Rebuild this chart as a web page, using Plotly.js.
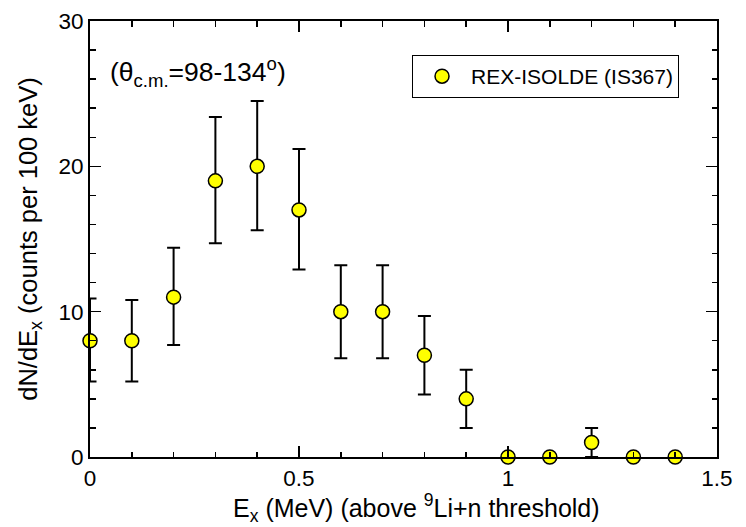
<!DOCTYPE html>
<html>
<head>
<meta charset="utf-8">
<script src="https://cdn.plot.ly/plotly-3.0.1.min.js"></script>
<style>html,body{margin:0;padding:0;background:#fff;}#chart{width:746px;height:527px;}</style>
</head>
<body>
<div id="chart"></div>
<script>
const energies = [0, 0.1, 0.2, 0.3, 0.4, 0.5, 0.6, 0.7, 0.8, 0.9, 1.0, 1.1, 1.2, 1.3, 1.4];
const counts = [8, 8, 11, 19, 20, 17, 10, 10, 7, 4, 0, 0, 1, 0, 0];
const errUp = [2.9, 2.8, 3.4, 4.4, 4.5, 4.2, 3.2, 3.2, 2.7, 2.0, 0, 0, 1.0, 0, 0];
const errDown = [2.8, 2.8, 3.3, 4.3, 4.4, 4.1, 3.2, 3.2, 2.7, 2.0, 0, 0, 1.0, 0, 0];
const seriesName = 'REX-ISOLDE (IS367)';
const xTickVals = [0, 0.5, 1, 1.5];
const xTickText = ['0', '0.5', '1', '1.5'];
const yTickVals = [0, 10, 20, 30];
const yTickText = ['0', '10', '20', '30'];

const font = 'Liberation Sans, Arial, Helvetica, sans-serif';

const trace = {
  x: energies,
  y: counts,
  type: 'scatter',
  mode: 'markers',
  name: seriesName,
  cliponaxis: false,
  marker: {symbol: 'circle', size: 14, color: '#ffff00', line: {color: '#000', width: 1.5}},
  error_y: {type: 'data', symmetric: false, array: errUp, arrayminus: errDown,
            color: '#000', thickness: 2, width: 6.5}
};

const axisCommon = {
  showgrid: false, zeroline: false, showline: true, linecolor: '#000', linewidth: 2,
  mirror: 'ticks', ticks: 'inside', ticklen: 11, tickwidth: 1.5, tickcolor: '#000',
  tickfont: {family: font, size: 22.5, color: '#000'}
};

const layout = {
  width: 746, height: 527,
  margin: {l: 90, r: 29, t: 21, b: 70},
  paper_bgcolor: '#fff', plot_bgcolor: '#fff',
  showlegend: true,
  legend: {x: 0.5136, y: 0.922, xanchor: 'left', yanchor: 'top',
           bordercolor: '#000', borderwidth: 1, bgcolor: '#fff', itemwidth: 48,
           font: {family: font, size: 21, color: '#000'}},
  xaxis: Object.assign({}, axisCommon, {
    range: [0, 1.5], tickvals: xTickVals, ticktext: xTickText,
    minor: {dtick: 0.1, ticks: 'inside', ticklen: 5.5, tickwidth: 1.5, tickcolor: '#000'}
  }),
  yaxis: Object.assign({}, axisCommon, {
    range: [0, 30], tickvals: yTickVals, ticktext: yTickText,
    minor: {dtick: 2, ticks: 'inside', ticklen: 5.5, tickwidth: 1.5, tickcolor: '#000'},
    title: {text: 'dN/dE<sub>x</sub> (counts per 100 keV)',
            font: {family: font, size: 25.5, color: '#000'}, standoff: 14}
  }),
  annotations: [{
    xref: 'paper', yref: 'paper', x: 0.0287, y: 0.883, xanchor: 'left', yanchor: 'middle',
    showarrow: false, text: '(θ<sub>c.m.</sub>=98-134<sup>o</sup>)',
    font: {family: font, size: 26.5, color: '#000'}
  }, {
    xref: 'paper', yref: 'paper', x: 0.5215, y: -0.117, xanchor: 'center', yanchor: 'middle',
    showarrow: false, text: 'E<sub>x</sub> (MeV) (above <sup>9</sup>Li+n threshold)',
    font: {family: font, size: 25, color: '#000'}
  }]
};

Plotly.newPlot('chart', [trace], layout, {displayModeBar: false, staticPlot: true});
</script>
</body>
</html>
